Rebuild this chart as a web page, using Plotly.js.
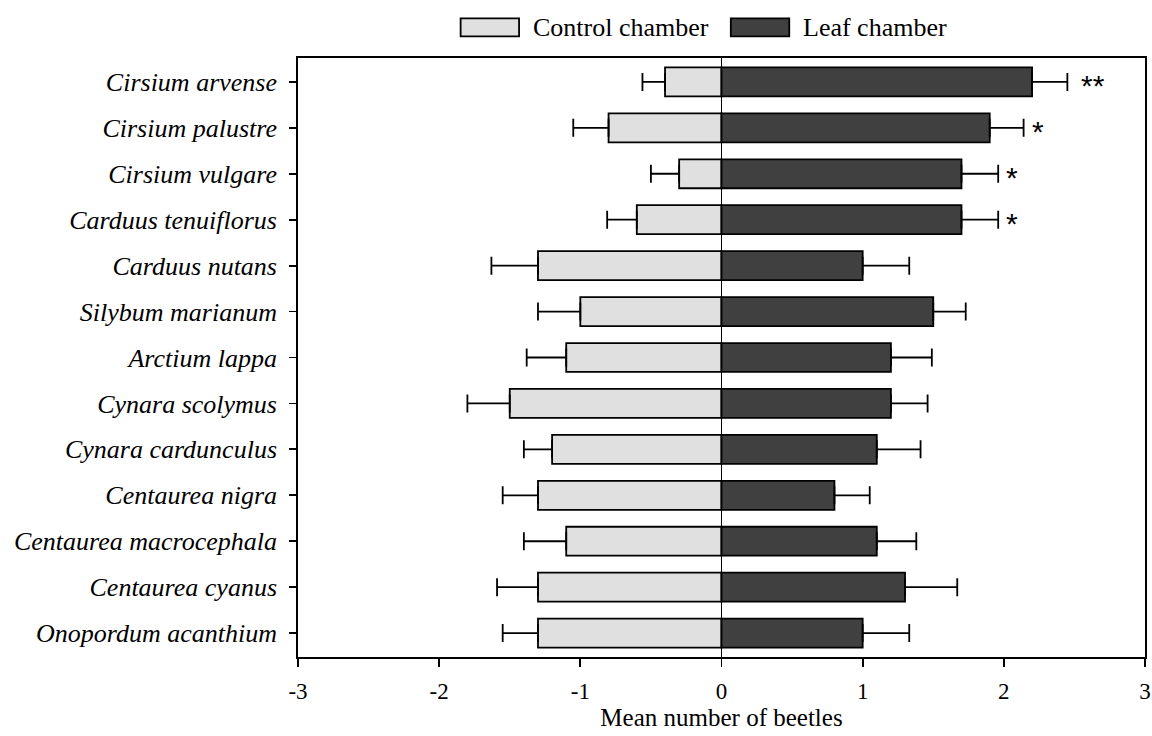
<!DOCTYPE html>
<html>
<head>
<meta charset="utf-8">
<script src="https://cdn.plot.ly/plotly-3.0.1.min.js"></script>
<style>
  html, body { margin: 0; padding: 0; background: #fff; }
  #chart { width: 1152px; height: 736px; }
</style>
</head>
<body>
<div id="chart"></div>
<script>
// Host plant species, top to bottom
const species = [
  'Cirsium arvense', 'Cirsium palustre', 'Cirsium vulgare', 'Carduus tenuiflorus',
  'Carduus nutans', 'Silybum marianum', 'Arctium lappa', 'Cynara scolymus',
  'Cynara cardunculus', 'Centaurea nigra', 'Centaurea macrocephala',
  'Centaurea cyanus', 'Onopordum acanthium'
];
// Mean beetles choosing the control chamber (plotted to the left of zero)
const controlMean = [-0.4, -0.8, -0.3, -0.6, -1.3, -1.0, -1.1, -1.5, -1.2, -1.3, -1.1, -1.3, -1.3];
const controlSE   = [0.16, 0.25, 0.2, 0.21, 0.33, 0.3, 0.28, 0.3, 0.2, 0.25, 0.3, 0.29, 0.25];
// Mean beetles choosing the leaf chamber
const leafMean = [2.2, 1.9, 1.7, 1.7, 1.0, 1.5, 1.2, 1.2, 1.1, 0.8, 1.1, 1.3, 1.0];
const leafSE   = [0.25, 0.24, 0.26, 0.26, 0.33, 0.23, 0.29, 0.26, 0.31, 0.25, 0.28, 0.37, 0.33];
// Significance markers
const signif = ['**', '*', '*', '*', '', '', '', '', '', '', '', '', ''];
const xTicks = [-3, -2, -1, 0, 1, 2, 3];
const legendNames = ['Control chamber', 'Leaf chamber'];

const serif = 'Liberation Serif, Times New Roman, serif';
const sans = 'Liberation Sans, Arial, sans-serif';
const zeros = species.map(() => 0);
const yLabels = species.map(s => '<i>' + s + '</i>');

const control = {
  type: 'bar', orientation: 'h', name: legendNames[0],
  y: yLabels, x: controlMean, width: 0.63,
  marker: { color: '#e0e0e0', line: { color: '#000', width: 1.8 } },
  error_x: { type: 'data', symmetric: false, array: zeros, arrayminus: controlSE,
             color: '#000', thickness: 1.8, width: 9 },
  hoverinfo: 'x+y'
};
const leaf = {
  type: 'bar', orientation: 'h', name: legendNames[1],
  y: yLabels, x: leafMean, width: 0.63,
  marker: { color: '#404040', line: { color: '#000', width: 1.8 } },
  error_x: { type: 'data', symmetric: false, array: leafSE, arrayminus: zeros,
             color: '#000', thickness: 1.8, width: 9 },
  hoverinfo: 'x+y'
};

// Asterisks placed just past the leaf-chamber error bars
const starNotes = [];
signif.forEach((s, i) => {
  if (!s) return;
  starNotes.push({
    x: leafMean[i] + leafSE[i], y: yLabels[i], xref: 'x', yref: 'y',
    text: s, showarrow: false, xanchor: 'left', xshift: s.length > 1 ? 12 : 6, yshift: -4,
    font: { family: sans, size: 30, color: '#000' }
  });
});

// Legend drawn as wide swatches above the plot
const legendShapes = [
  { type: 'rect', xref: 'paper', yref: 'paper', x0: 0.192, x1: 0.261, y0: 1.036, y1: 1.066,
    fillcolor: '#e0e0e0', line: { color: '#000', width: 1.8 } },
  { type: 'rect', xref: 'paper', yref: 'paper', x0: 0.511, x1: 0.580, y0: 1.036, y1: 1.066,
    fillcolor: '#404040', line: { color: '#000', width: 1.8 } }
];
const legendNotes = [
  { xref: 'paper', yref: 'paper', x: 0.2745, y: 1.051, text: legendNames[0], showarrow: false,
    xanchor: 'left', yanchor: 'middle', font: { family: serif, size: 26, color: '#000' } },
  { xref: 'paper', yref: 'paper', x: 0.5935, y: 1.051, text: legendNames[1], showarrow: false,
    xanchor: 'left', yanchor: 'middle', font: { family: serif, size: 26, color: '#000' } }
];

const layout = {
  width: 1152, height: 736,
  margin: { l: 298, r: 7, t: 58, b: 79 },
  paper_bgcolor: '#fff', plot_bgcolor: '#fff',
  barmode: 'relative',
  showlegend: false,
  font: { family: serif, size: 22, color: '#000' },
  xaxis: {
    range: [-3, 3], tickvals: xTicks, ticktext: xTicks.map(String),
    ticks: 'outside', ticklen: 8, tickwidth: 1.8, tickcolor: '#000',
    showline: true, linecolor: '#000', linewidth: 1.8, mirror: true,
    showgrid: false, zeroline: true, zerolinecolor: '#000', zerolinewidth: 1.5,
    tickfont: { family: serif, size: 23 }, ticklabelstandoff: 5,
    title: { text: 'Mean number of beetles', font: { family: serif, size: 25 }, standoff: 1 }
  },
  yaxis: {
    type: 'category', autorange: false, range: [12.52, -0.52],
    ticks: 'outside', ticklen: 7, tickwidth: 1.8, tickcolor: '#000',
    showline: true, linecolor: '#000', linewidth: 1.8, mirror: true,
    showgrid: false, zeroline: false, ticklabelstandoff: 7,
    tickfont: { family: serif, size: 26 }
  },
  shapes: legendShapes,
  annotations: starNotes.concat(legendNotes)
};

Plotly.newPlot('chart', [control, leaf], layout, { displayModeBar: false, staticPlot: true });
</script>
</body>
</html>
